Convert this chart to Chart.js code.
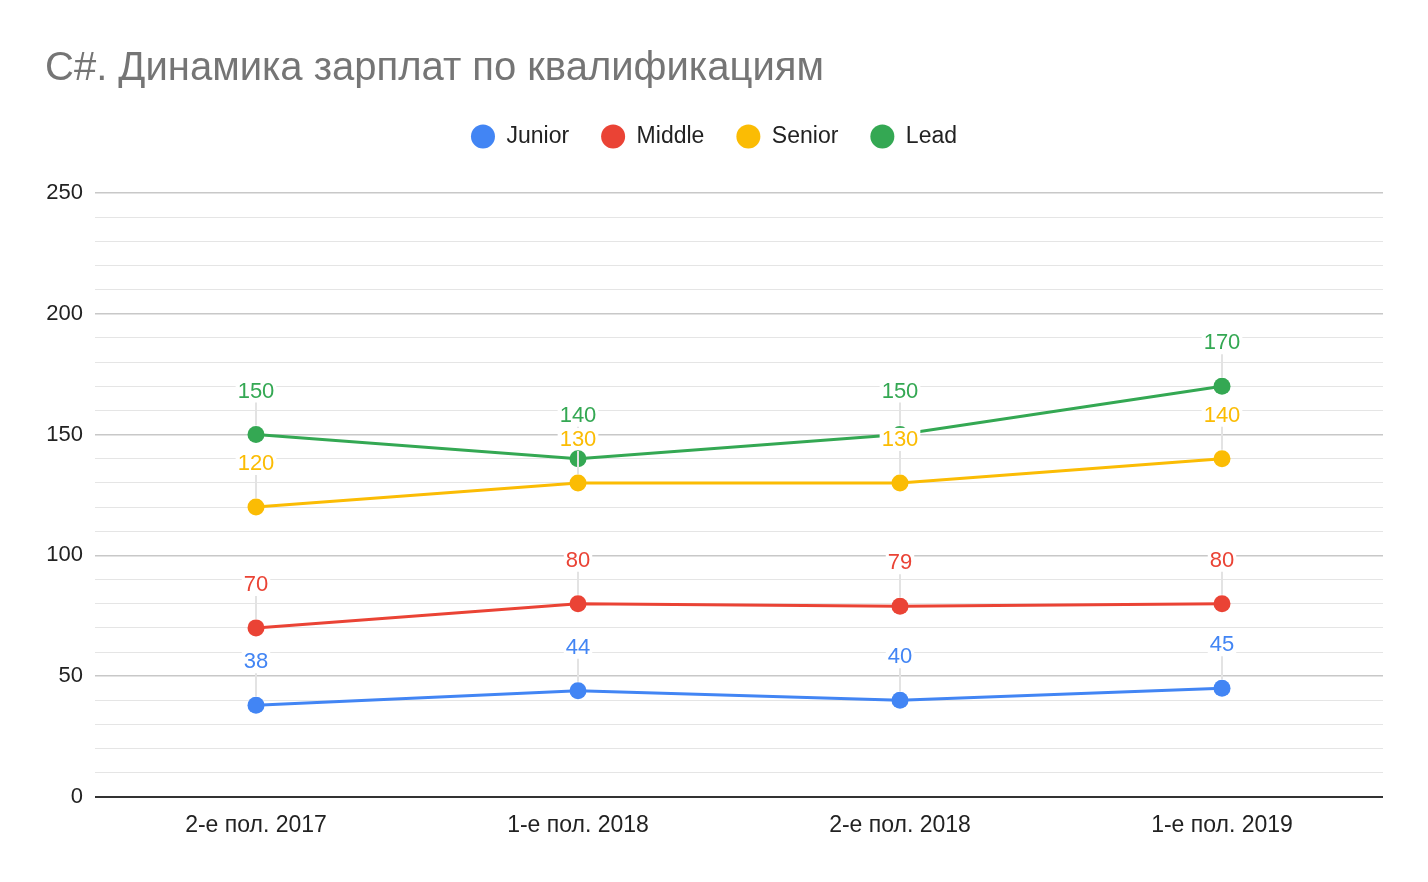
<!DOCTYPE html>
<html>
<head>
<meta charset="utf-8">
<script src="https://cdn.jsdelivr.net/npm/chart.js@4/dist/chart.umd.min.js"></script>
<style>
  body { margin: 0; background: #fff; }
  #wrap { width: 1428px; height: 882px; }
</style>
</head>
<body>
<div id="wrap"><canvas id="chart"></canvas></div>
<script>
const periods = ['2-е пол. 2017', '1-е пол. 2018', '2-е пол. 2018', '1-е пол. 2019']
const junior = [38, 44, 40, 45]
const middle = [70, 80, 79, 80]
const senior = [120, 130, 130, 140]
const lead = [150, 140, 150, 170]

const titleText = 'C#. Динамика зарплат по квалификациям'
const fontFamily = "'Liberation Sans', Arial, sans-serif"

Chart.defaults.font.family = fontFamily

function series(label, data, color) {
  return {
    label: label,
    data: data,
    borderColor: color,
    backgroundColor: color,
    pointBackgroundColor: color,
    pointBorderWidth: 0,
    pointRadius: 8.5,
    pointHoverRadius: 8.5,
    borderWidth: 3,
    fill: false,
    tension: 0
  }
}

// value labels above each point, with the faint leader line down to the point
const pointLabels = {
  id: 'pointLabels',
  afterDatasetsDraw(chart) {
    const ctx = chart.ctx
    const items = []
    chart.data.datasets.forEach(function(ds, i) {
      const meta = chart.getDatasetMeta(i)
      meta.data.forEach(function(pt, j) {
        items.push({ x: pt.x, y: pt.y, text: String(ds.data[j]), color: ds.borderColor })
      })
    })
    ctx.save()
    ctx.font = '22px ' + fontFamily
    ctx.strokeStyle = '#e3e3e3'
    ctx.lineWidth = 2
    items.forEach(function(it) {
      ctx.beginPath()
      ctx.moveTo(it.x, it.y - 44 + 12)
      ctx.lineTo(it.x, it.y - 9)
      ctx.stroke()
    })
    ctx.textAlign = 'center'
    ctx.textBaseline = 'middle'
    items.forEach(function(it) {
      const w = ctx.measureText(it.text).width
      ctx.fillStyle = '#fff'
      ctx.fillRect(it.x - w / 2 - 2, it.y - 44 - 11, w + 4, 22)
      ctx.fillStyle = it.color
      ctx.fillText(it.text, it.x, it.y - 44 + 1)
    })
    ctx.restore()
  }
}

const ctx = document.getElementById('chart').getContext('2d')
const salaryChart = new Chart(ctx, {
  type: 'line',
  data: {
    labels: periods,
    datasets: [
      series('Junior', junior, '#4285F4'),
      series('Middle', middle, '#EA4335'),
      series('Senior', senior, '#FBBC04'),
      series('Lead', lead, '#34A853')
    ]
  },
  options: {
    responsive: true,
    maintainAspectRatio: false,
    animation: false,
    events: [],
    layout: { padding: { top: 45, left: 45, right: 45, bottom: 0 } },
    plugins: {
      title: {
        display: true,
        text: titleText,
        align: 'start',
        color: '#757575',
        font: { size: 40, weight: 'normal' },
        padding: { top: 0, bottom: 0 }
      },
      legend: {
        display: true,
        position: 'top',
        align: 'center',
        labels: {
          usePointStyle: true,
          pointStyle: 'circle',
          pointStyleWidth: 24,
          boxHeight: 17,
          padding: 32,
          color: '#222',
          font: { size: 23 }
        }
      },
      tooltip: { enabled: false }
    },
    scales: {
      x: {
        offset: true,
        grid: { display: false, drawTicks: false, offset: true },
        border: { display: false },
        ticks: { color: '#222', font: { size: 23 }, padding: 15, maxRotation: 0 },
        afterFit(scale) { scale.height = 85 }
      },
      xTop: {
        type: 'category',
        axis: 'x',
        position: 'top',
        offset: true,
        grid: { display: false, drawTicks: false },
        border: { display: false },
        ticks: { display: false },
        afterFit(scale) { scale.height = 35 }
      },
      y: {
        min: 0,
        max: 250,
        border: { display: false },
        grid: {
          drawTicks: false,
          color: function(c) {
            if (c.tick.value === 0) return '#333'
            return c.tick.value % 50 === 0 ? '#c8c8c8' : '#e5e5e5'
          },
          lineWidth: function(c) {
            if (c.tick.value === 0) return 2
            return c.tick.value % 50 === 0 ? 1.5 : 1
          }
        },
        ticks: {
          stepSize: 10,
          autoSkip: false,
          color: '#222',
          font: { size: 22 },
          padding: 12,
          callback: function(v) { return v % 50 === 0 ? v : '' }
        },
        afterFit(scale) { scale.width = 50 }
      }
    }
  },
  plugins: [pointLabels]
})
</script>
</body>
</html>
